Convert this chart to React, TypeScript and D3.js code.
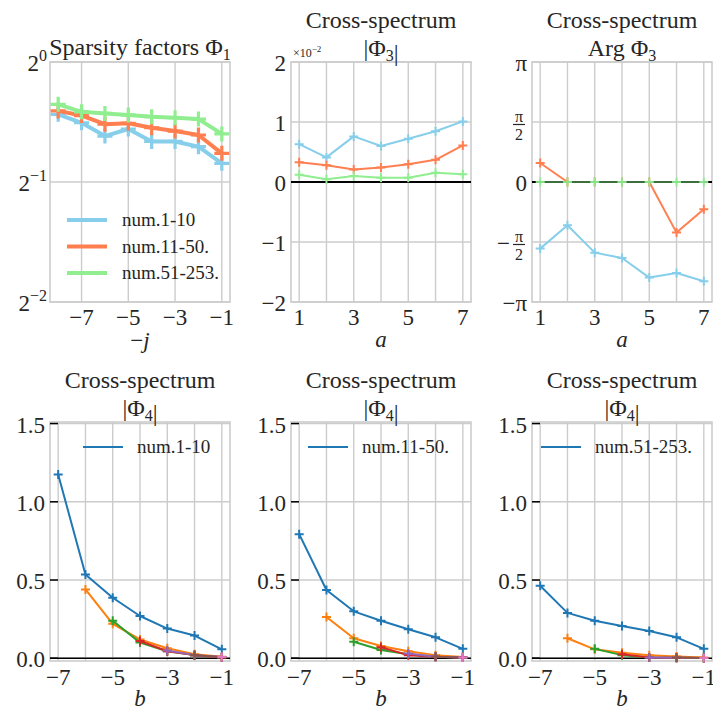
import React from "react";
import * as d3 from "d3";

// ---------------- data ----------------
const groupLabels = ["num.1-10", "num.11-50.", "num.51-253."];
const groupColors = ["#87CEEB", "#FF7F50", "#90EE90"];

// Panel 1: sparsity factors (log2 scale)
const sparsityX = [-8, -7, -6, -5, -4, -3, -2, -1];
const sparsityG1 = [0.739, 0.704, 0.652, 0.679, 0.632, 0.632, 0.613, 0.557];
const sparsityG2 = [0.754, 0.734, 0.698, 0.702, 0.684, 0.671, 0.656, 0.59];
const sparsityG3 = [0.783, 0.75, 0.743, 0.736, 0.729, 0.725, 0.719, 0.66];
const sparsityTicksX = [-7, -5, -3, -1];
const sparsityTicksY = [0, -1, -2]; // exponents of 2

// Panel 2: |Phi3| (x 1e-2)
const aValues = [1, 2, 3, 4, 5, 6, 7];
const phi3AbsG1 = [0.63, 0.41, 0.76, 0.6, 0.72, 0.845, 1.01];
const phi3AbsG2 = [0.33, 0.28, 0.21, 0.24, 0.295, 0.37, 0.61];
const phi3AbsG3 = [0.12, 0.045, 0.1, 0.07, 0.07, 0.155, 0.13];
const absTicksY = [-2, -1, 0, 1, 2];
const aTickLabels = [1, 3, 5, 7];

// Panel 3: Arg Phi3 (radians)
const phi3ArgG1 = [-1.744, -1.134, -1.849, -1.99, -2.503, -2.383, -2.6];
const phi3ArgG2 = [0.497, 0, 0, 0, 0, -1.325, -0.715];
const phi3ArgG3 = [0, 0, 0, 0, 0, 0, 0];
const argTickLabels = ["π", "π/2", "0", "−π/2", "−π"];

// Bottom panels: |Phi4|, series k starts at b = -7 + k
const bValues = [-7, -6, -5, -4, -3, -2, -1];
const bTickLabels = [-7, -5, -3, -1];
const phi4TicksY = [0, 0.5, 1.0, 1.5];
const tab10 = ["#1f77b4", "#ff7f0e", "#2ca02c", "#d62728", "#9467bd", "#8c564b", "#e377c2"];
const phi4G1 = [
  [1.174, 0.536, 0.387, 0.27, 0.19, 0.145, 0.057],
  [0.44, 0.22, 0.12, 0.064, 0.025, 0.01],
  [0.24, 0.1, 0.045, 0.02, 0.005],
  [0.11, 0.045, 0.02, 0.005],
  [0.05, 0.02, 0.008],
  [0.02, 0.008],
  [0.008],
];
const phi4G2 = [
  [0.793, 0.436, 0.3, 0.24, 0.185, 0.134, 0.06],
  [0.264, 0.128, 0.078, 0.045, 0.02, 0.008],
  [0.106, 0.053, 0.025, 0.01, 0.005],
  [0.07, 0.02, 0.01, 0.005],
  [0.03, 0.01, 0.005],
  [0.01, 0.005],
  [0.005],
];
const phi4G3 = [
  [0.463, 0.29, 0.24, 0.206, 0.174, 0.134, 0.06],
  [0.128, 0.057, 0.035, 0.02, 0.012, 0.005],
  [0.06, 0.02, 0.005, 0.003, 0.002],
  [0.025, 0.005, 0.003, 0.002],
  [0.005, 0.003, 0.002],
  [0.003, 0.002],
  [0.002],
];

// ---------------- layout ----------------
const W = 713;
const H = 711;
const colLeft = [50, 291, 532];
const PW = 180;
const rowTop = [62, 422];
const PH = 240;
const FONT = "Liberation Serif";
const TXT = "#262626";
const GRID = "#cccccc";

const fmtMinus = (v: number) => (v < 0 ? "−" + Math.abs(v) : String(v));

function plus(x: number, y: number, s: number) {
  return `M${x - s},${y}H${x + s}M${x},${y - s}V${y + s}`;
}

function T(props: any) {
  const { size, italic, style, children, ...rest } = props;
  return (
    <text
      {...rest}
      fill={TXT}
      style={{ fontFamily: FONT, fontSize: size, fontStyle: italic ? "italic" : "normal", ...(style || {}) }}
    >
      {children}
    </text>
  );
}

function Frame({ x0, y0, w, h }: { x0: number; y0: number; w: number; h: number }) {
  return <rect x={x0} y={y0} width={w} height={h} fill="none" stroke={GRID} strokeWidth={1.6} />;
}

function SeriesLine({
  xs,
  ys,
  xS,
  yS,
  color,
  lw,
  ms,
  mw,
}: {
  xs: number[];
  ys: number[];
  xS: (v: number) => number;
  yS: (v: number) => number;
  color: string;
  lw: number;
  ms: number;
  mw: number;
}) {
  const pts = xs.map((x, i) => [xS(x), yS(ys[i])] as [number, number]);
  const line = d3.line()(pts) || "";
  return (
    <g>
      <path d={line} fill="none" stroke={color} strokeWidth={lw} strokeLinejoin="round" />
      {pts.map((p, i) => (
        <path key={i} d={plus(p[0], p[1], ms)} stroke={color} strokeWidth={mw} fill="none" />
      ))}
    </g>
  );
}

function Title({ cx, lines }: { cx: number; lines: { y: number; content: React.ReactNode }[] }) {
  return (
    <g>
      {lines.map((l, i) => (
        <T key={i} x={cx} y={l.y} textAnchor="middle" size={24}>
          {l.content}
        </T>
      ))}
    </g>
  );
}

function Phi({ sub }: { sub: string }) {
  return (
    <>
      Φ
      <tspan style={{ fontSize: 16 }} dy={5}>
        {sub}
      </tspan>
    </>
  );
}

function PanelSparsity() {
  const x0 = colLeft[0];
  const y0 = rowTop[0];
  const xS = d3.scaleLinear().domain([-8.35, -0.65]).range([x0, x0 + PW]);
  const yS = d3.scaleLog().base(2).domain([0.25, 1]).range([y0 + PH, y0]);
  const series = [sparsityG1, sparsityG2, sparsityG3];
  return (
    <g>
      {sparsityTicksX.map((t) => (
        <line key={t} x1={xS(t)} x2={xS(t)} y1={y0} y2={y0 + PH} stroke={GRID} strokeWidth={1.4} />
      ))}
      {sparsityTicksY.map((e) => (
        <line key={e} x1={x0} x2={x0 + PW} y1={yS(2 ** e)} y2={yS(2 ** e)} stroke={GRID} strokeWidth={1.4} />
      ))}
      <Frame x0={x0} y0={y0} w={PW} h={PH} />
      {series.map((s, i) => (
        <SeriesLine key={i} xs={sparsityX} ys={s} xS={xS} yS={yS} color={groupColors[i]} lw={4} ms={7.5} mw={3.2} />
      ))}
      {sparsityTicksX.map((t) => (
        <T key={t} x={xS(t)} y={y0 + PH + 23} textAnchor="middle" size={23}>
          {fmtMinus(t)}
        </T>
      ))}
      {sparsityTicksY.map((e) => (
        <T key={e} x={x0 - 3} y={yS(2 ** e) + 9} textAnchor="end" size={23}>
          2
          <tspan style={{ fontSize: 16 }} dy={-10}>
            {fmtMinus(e)}
          </tspan>
        </T>
      ))}
      {/* legend */}
      {groupLabels.map((lab, i) => (
        <g key={lab}>
          <line x1={67} x2={107} y1={220 + i * 26.5} y2={220 + i * 26.5} stroke={groupColors[i]} strokeWidth={4} />
          <T x={122} y={220 + i * 26.5 + 6} size={19}>
            {lab}
          </T>
        </g>
      ))}
      <T x={x0 + PW / 2} y={348} textAnchor="middle" size={23}>
        −<tspan style={{ fontStyle: "italic" }}>j</tspan>
      </T>
      <Title cx={x0 + PW / 2} lines={[{ y: 55, content: <>Sparsity factors <Phi sub="1" /></> }]} />
    </g>
  );
}

function PanelAbs() {
  const x0 = colLeft[1];
  const y0 = rowTop[0];
  const xS = d3.scaleLinear().domain([0.7, 7.3]).range([x0, x0 + PW]);
  const yS = d3.scaleLinear().domain([-2, 2]).range([y0 + PH, y0]);
  const series = [phi3AbsG1, phi3AbsG2, phi3AbsG3];
  return (
    <g>
      {aValues.map((t) => (
        <line key={t} x1={xS(t)} x2={xS(t)} y1={y0} y2={y0 + PH} stroke={GRID} strokeWidth={1.4} />
      ))}
      {absTicksY.map((t) => (
        <line key={t} x1={x0} x2={x0 + PW} y1={yS(t)} y2={yS(t)} stroke={GRID} strokeWidth={1.4} />
      ))}
      <Frame x0={x0} y0={y0} w={PW} h={PH} />
      <line x1={x0} x2={x0 + PW} y1={yS(0)} y2={yS(0)} stroke="#000" strokeWidth={2} />
      {series.map((s, i) => (
        <SeriesLine key={i} xs={aValues} ys={s} xS={xS} yS={yS} color={groupColors[i]} lw={2} ms={4.5} mw={2} />
      ))}
      {aTickLabels.map((t) => (
        <T key={t} x={xS(t)} y={y0 + PH + 23} textAnchor="middle" size={23}>
          {t}
        </T>
      ))}
      {absTicksY.map((t) => (
        <T key={t} x={x0 - 5} y={yS(t) + 9} textAnchor="end" size={23}>
          {fmtMinus(t)}
        </T>
      ))}
      <T x={x0 + 2} y={57} size={12}>
        ×10
        <tspan style={{ fontSize: 9 }} dy={-5}>
          −2
        </tspan>
      </T>
      <T x={x0 + PW / 2} y={347} textAnchor="middle" size={23} italic>
        a
      </T>
      <Title
        cx={x0 + PW / 2}
        lines={[
          { y: 28, content: "Cross-spectrum" },
          { y: 56, content: <>|<Phi sub="3" />|</> },
        ]}
      />
    </g>
  );
}

function PanelArg() {
  const x0 = colLeft[2];
  const y0 = rowTop[0];
  const xS = d3.scaleLinear().domain([0.7, 7.3]).range([x0, x0 + PW]);
  const yS = d3.scaleLinear().domain([-Math.PI, Math.PI]).range([y0 + PH, y0]);
  const tickVals = [Math.PI, Math.PI / 2, 0, -Math.PI / 2, -Math.PI];
  return (
    <g>
      {aValues.map((t) => (
        <line key={t} x1={xS(t)} x2={xS(t)} y1={y0} y2={y0 + PH} stroke={GRID} strokeWidth={1.4} />
      ))}
      {tickVals.map((t, i) => (
        <line key={i} x1={x0} x2={x0 + PW} y1={yS(t)} y2={yS(t)} stroke={GRID} strokeWidth={1.4} />
      ))}
      <Frame x0={x0} y0={y0} w={PW} h={PH} />
      <line x1={x0} x2={x0 + PW} y1={yS(0)} y2={yS(0)} stroke="#000" strokeWidth={2} />
      <SeriesLine xs={aValues} ys={phi3ArgG1} xS={xS} yS={yS} color={groupColors[0]} lw={2} ms={4.5} mw={2} />
      <SeriesLine xs={aValues} ys={phi3ArgG2} xS={xS} yS={yS} color={groupColors[1]} lw={2} ms={4.5} mw={2} />
      {/* third group: markers light, line darkened over the zero line */}
      <path
        d={d3.line()(aValues.map((a, i) => [xS(a), yS(phi3ArgG3[i])] as [number, number])) || ""}
        stroke="#3e6e3e"
        strokeWidth={2.2}
        fill="none"
      />
      {aValues.map((a, i) => (
        <path key={i} d={plus(xS(a), yS(phi3ArgG3[i]), 4.5)} stroke={groupColors[2]} strokeWidth={2} opacity={0.9} />
      ))}
      {aTickLabels.map((t) => (
        <T key={t} x={xS(t)} y={y0 + PH + 23} textAnchor="middle" size={23}>
          {t}
        </T>
      ))}
      {argTickLabels.map((lab, i) => {
        const ty = yS(tickVals[i]);
        const right = x0 - 5;
        if (lab.includes("/")) {
          const neg = lab.startsWith("−");
          const cx = right - 8;
          return (
            <g key={i}>
              <T x={cx} y={ty - 0.5} textAnchor="middle" size={16}>
                π
              </T>
              <line x1={cx - 6} x2={cx + 6} y1={ty + 2.5} y2={ty + 2.5} stroke={TXT} strokeWidth={1.2} />
              <T x={cx} y={ty + 18} textAnchor="middle" size={16}>
                2
              </T>
              {neg && (
                <T x={cx - 9} y={ty + 9} textAnchor="end" size={23}>
                  −
                </T>
              )}
            </g>
          );
        }
        return (
          <T key={i} x={right} y={ty + 9} textAnchor="end" size={23}>
            {lab}
          </T>
        );
      })}
      <T x={x0 + PW / 2} y={347} textAnchor="middle" size={23} italic>
        a
      </T>
      <Title
        cx={x0 + PW / 2}
        lines={[
          { y: 28, content: "Cross-spectrum" },
          { y: 56, content: <>Arg <Phi sub="3" /></> },
        ]}
      />
    </g>
  );
}

function PanelPhi4({ col, data, label }: { col: number; data: number[][]; label: string }) {
  const x0 = colLeft[col];
  const y0 = rowTop[1];
  const ph = 239;
  const xS = d3.scaleLinear().domain([-7.3, -0.7]).range([x0, x0 + PW]);
  const yS = d3.scaleLinear().domain([-0.0175, 1.51]).range([y0 + ph, y0]);
  const legendX = [83, 308, 541][col];
  return (
    <g>
      {bValues.map((t) => (
        <line key={t} x1={xS(t)} x2={xS(t)} y1={y0} y2={y0 + ph} stroke={GRID} strokeWidth={1.4} />
      ))}
      {phi4TicksY.map((t) => (
        <line key={t} x1={x0} x2={x0 + PW} y1={yS(t)} y2={yS(t)} stroke={GRID} strokeWidth={1.4} />
      ))}
      <Frame x0={x0} y0={y0} w={PW} h={ph} />
      <line x1={x0} x2={x0 + PW} y1={yS(0)} y2={yS(0)} stroke="#000" strokeWidth={1.5} />
      {phi4TicksY.map((t) => (
        <line key={t} x1={x0} x2={x0 + 8} y1={yS(t)} y2={yS(t)} stroke="#000" strokeWidth={1.5} />
      ))}
      {data.map((s, k) => (
        <SeriesLine
          key={k}
          xs={bValues.slice(k, k + s.length)}
          ys={s}
          xS={xS}
          yS={yS}
          color={tab10[k]}
          lw={2}
          ms={4.5}
          mw={2}
        />
      ))}
      {bTickLabels.map((t) => (
        <T key={t} x={xS(t)} y={y0 + ph + 24} textAnchor="middle" size={23}>
          {fmtMinus(t)}
        </T>
      ))}
      {phi4TicksY.map((t) => (
        <T key={t} x={x0 - 5} y={yS(t) + 9} textAnchor="end" size={23}>
          {t.toFixed(1)}
        </T>
      ))}
      <line x1={legendX} x2={legendX + 40} y1={447} y2={447} stroke={tab10[0]} strokeWidth={2} />
      <T x={legendX + 54} y={453} size={19}>
        {label}
      </T>
      <T x={x0 + PW / 2} y={706} textAnchor="middle" size={23} italic>
        b
      </T>
      <Title
        cx={x0 + PW / 2}
        lines={[
          { y: 388, content: "Cross-spectrum" },
          { y: 416, content: <>|<Phi sub="4" />|</> },
        ]}
      />
    </g>
  );
}

export default function App() {
  return (
    <svg
      width={W}
      height={H}
      viewBox={`0 0 ${W} ${H}`}
      style={{ position: "absolute", left: 0, top: 0, background: "#fff" }}
    >
      <rect width={W} height={H} fill="#fff" />
      <PanelSparsity />
      <PanelAbs />
      <PanelArg />
      <PanelPhi4 col={0} data={phi4G1} label={groupLabels[0]} />
      <PanelPhi4 col={1} data={phi4G2} label={groupLabels[1]} />
      <PanelPhi4 col={2} data={phi4G3} label={groupLabels[2]} />
    </svg>
  );
}
